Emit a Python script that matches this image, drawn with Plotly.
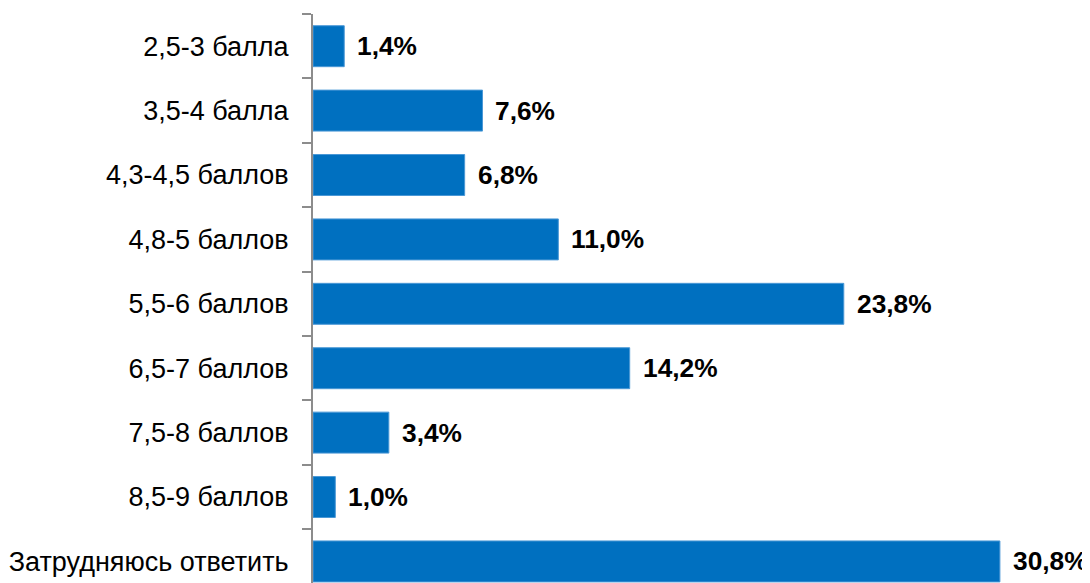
import plotly.graph_objects as go

categories = ["2,5-3 балла", "3,5-4 балла", "4,3-4,5 баллов", "4,8-5 баллов",
              "5,5-6 баллов", "6,5-7 баллов", "7,5-8 баллов", "8,5-9 баллов",
              "Затрудняюсь ответить"]
values = [1.4, 7.6, 6.8, 11.0, 23.8, 14.2, 3.4, 1.0, 30.8]
labels = [f"{v:.1f}%".replace(".", ",") for v in values]

FONT = "Liberation Sans, Arial, sans-serif"

fig = go.Figure(go.Bar(
    x=values, y=categories, orientation="h",
    marker=dict(color="#0070C0", line=dict(color="#4A98D6", width=1)),
    width=0.636, hoverinfo="skip",
))

for c, v, t in zip(categories, values, labels):
    fig.add_annotation(x=v, y=c, text=f"<b>{t}</b>", showarrow=False,
                       xanchor="left", yanchor="middle", xshift=11,
                       font=dict(family=FONT, size=26.3, color="#000000"))

fig.update_layout(
    width=1082, height=575,
    margin=dict(l=305, r=0, t=6, b=0, autoexpand=False),
    paper_bgcolor="white", plot_bgcolor="white",
    showlegend=False,
    xaxis=dict(range=[0, 34.84], visible=False, showgrid=False, zeroline=False,
               automargin=False),
    yaxis=dict(
        type="category", range=[8.335, -0.5], automargin=False,
        showline=True, linecolor="#8C8C8C", linewidth=2,
        ticks="outside", tickson="boundaries", ticklen=9, tickcolor="#8C8C8C", tickwidth=2,
        showgrid=False, zeroline=False,
        ticklabelstandoff=17,
        tickfont=dict(family=FONT, size=27, color="#000000"),
    ),
)

fig.write_html("out.html")
